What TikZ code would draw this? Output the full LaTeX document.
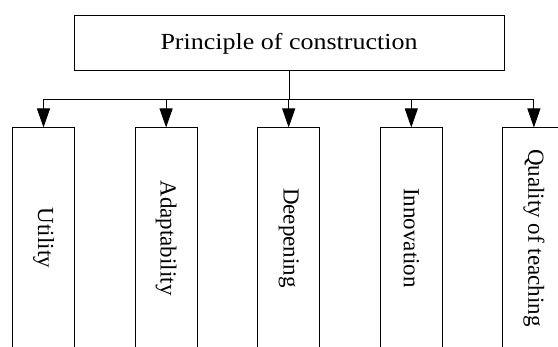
\documentclass[tikz,border=0pt]{standalone}
\usepackage{fontspec}
\setmainfont{Liberation Serif}
\usetikzlibrary{arrows.meta}

\begin{document}
\begin{tikzpicture}[x=1pt, y=1pt,
    box/.style = {draw, line width=1pt, inner sep=0pt},
    arr/.style = {line width=1pt, -{Triangle[length=19pt, width=13pt]}},
    font=\fontsize{23}{27}\selectfont]

    \useasboundingbox (0,0) rectangle (558,347);
    \clip (0,0) rectangle (558,347);

    \def\d{122.6}
    \node [box, minimum width=430pt, minimum height=55pt] (top) at (289, 303.5) {\scalebox{1.13}[1]{Principle of construction}};
    \coordinate (bus) at (289, 247);
    \draw [line width=1pt] (top.south) -- (bus);

    \foreach \i/\txt in {1/Utility, 2/Adaptability, 3/Deepening, 4/Innovation, 5/Quality of teaching} {
        \node [box, minimum width=62pt, minimum height=220pt] (b\i) at (43.5+\i*\d-\d, 109) {\rotatebox{-90}{\txt}};
        \draw [arr] (bus) -| (b\i.north);
    }
    % boxes run on below the page edge
\end{tikzpicture}
\end{document}
